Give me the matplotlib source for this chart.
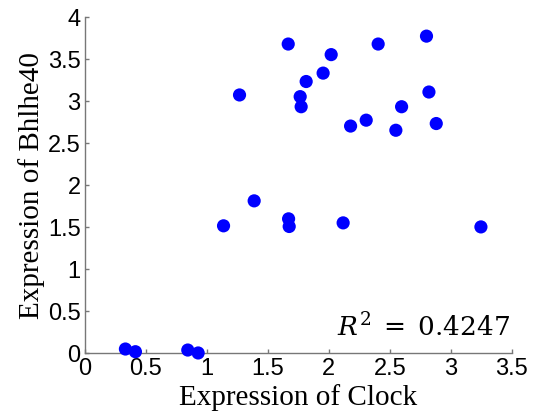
import numpy as np
import matplotlib
matplotlib.use("Agg")
import matplotlib.pyplot as plt

# Clock vs Bhlhe40 expression
clock = [1.667, 2.80, 2.404, 2.019, 1.953, 1.814, 1.268, 1.765, 1.773, 2.82,
         2.596, 2.178, 2.306, 2.549, 2.88, 1.388, 1.137, 1.67, 1.675, 2.117,
         3.246, 0.333, 0.415, 0.844, 0.929]
bhlhe40 = [3.676, 3.77, 3.676, 3.55, 3.33, 3.23, 3.07, 3.05, 2.93, 3.105,
           2.93, 2.70, 2.77, 2.65, 2.73, 1.81, 1.513, 1.596, 1.505, 1.548,
           1.50, 0.047, 0.015, 0.035, 0.0]
xticks = ["0", "0.5", "1", "1.5", "2", "2.5", "3", "3.5"]
yticks = ["0", "0.5", "1", "1.5", "2", "2.5", "3", "3.5", "4"]

plt.rcParams["mathtext.fontset"] = "dejavuserif"

fig = plt.figure(figsize=(5.4, 4.14), dpi=100)
ax = fig.add_axes([0.157, 0.145, 0.791, 0.812])

ax.scatter(clock, bhlhe40, s=90, color="blue", edgecolors="none", clip_on=False, zorder=3)

ax.set_xlim(0, 3.5)
ax.set_ylim(0, 4)
ax.set_xticks(np.arange(0, 3.51, 0.5))
ax.set_yticks(np.arange(0, 4.01, 0.5))
ax.set_xticklabels(xticks)
ax.set_yticklabels(yticks)

for side in ["top", "right"]:
    ax.spines[side].set_visible(False)
for side in ["left", "bottom"]:
    ax.spines[side].set_color("#777777")
    ax.spines[side].set_linewidth(1.0)

ax.tick_params(direction="in", length=3, width=1, color="#777777",
               labelsize=17, labelcolor="black", pad=3)
for lab in ax.get_xticklabels() + ax.get_yticklabels():
    lab.set_family("Liberation Sans")

ax.set_xlabel("Expression of Clock", family="Liberation Serif", fontsize=21, labelpad=3)
ax.set_ylabel("Expression of Bhlhe40", family="Liberation Serif", fontsize=21, labelpad=2)

ax.text(0.995, 0.035, r"$R^2\;=\;0.4247$", transform=ax.transAxes, ha="right", va="bottom",
        fontsize=19)

fig.savefig("out.png", dpi=100)
